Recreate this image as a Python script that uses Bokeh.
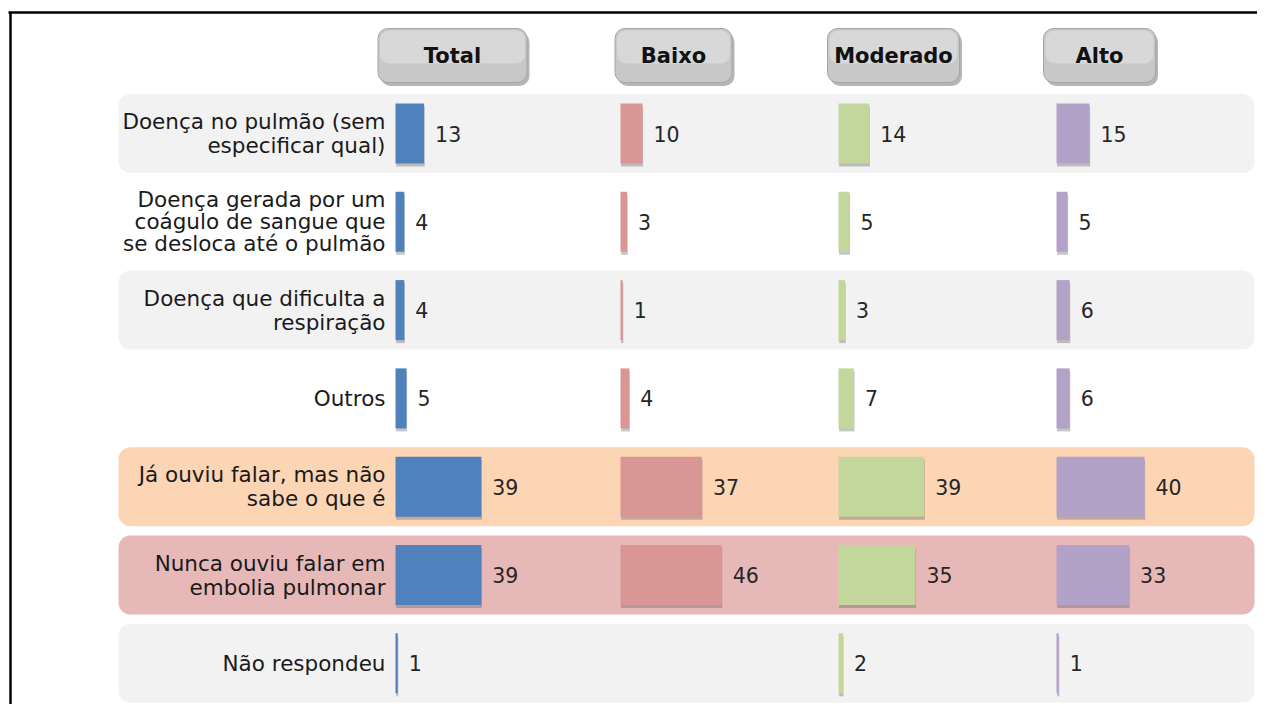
from bokeh.plotting import figure
from bokeh.models import Range1d, ColumnDataSource
from bokeh.core.properties import value
from bokeh.embed import file_html
from bokeh.resources import INLINE

# ---------------- data ----------------
categories = [
    "Doença no pulmão (sem\nespecificar qual)",
    "Doença gerada por um\ncoágulo de sangue que\nse desloca até o pulmão",
    "Doença que dificulta a\nrespiração",
    "Outros",
    "Já ouviu falar, mas não\nsabe o que é",
    "Nunca ouviu falar em\nembolia pulmonar",
    "Não respondeu",
]
groups = ["Total", "Baixo", "Moderado", "Alto"]
total = [13, 4, 4, 5, 39, 39, 1]
baixo = [10, 3, 1, 4, 37, 46, None]
moderado = [14, 5, 3, 7, 39, 35, 2]
alto = [15, 5, 6, 6, 40, 33, 1]
series = [total, baixo, moderado, alto]

group_colors = ["#4f81bd", "#d99694", "#c3d69b", "#b3a2c7"]
band_colors = ["#f2f2f2", None, "#f2f2f2", None, "#fcd5b5", "#e6b9b8", "#f2f2f2"]

# ---------------- layout ----------------
W, H = 1257, 704
PX = 2.2            # pixels per percentage point
ROW0, PITCH = 133.0, 88.3


def ux(X):
    return X / PX


def uy(Y):
    return (Y - ROW0) / PITCH


col_start = [ux(395), ux(620), ux(838), ux(1056)]
btn_center = [ux(452), ux(673), ux(893), ux(1099)]
btn_width = [149 / PX, 117 / PX, 132 / PX, 112 / PX]
btn_y, btn_h = uy(55), 54 / PITCH
bar_h = 60 / PITCH
band_h = 79 / PITCH
band_left, band_right = ux(118), ux(1254)
label_right = ux(385)
gap = 11 / PX
FONT = value("DejaVu Sans")

p = figure(width=W, height=H, x_range=Range1d(0, W / PX),
           y_range=Range1d(uy(H), uy(0)),
           output_backend="svg", toolbar_location=None, min_border=0,
           x_axis_location=None, y_axis_location=None)
p.grid.visible = False
p.outline_line_color = None
p.background_fill_color = "white"
p.border_fill_color = "white"

# outer frame (left and top edges visible)
p.segment(x0=[ux(10), ux(8)], y0=[uy(12), uy(12)], x1=[ux(10), ux(1273)],
          y1=[uy(720), uy(12)], line_color="black", line_width=2.5)

# row bands
rows = list(range(len(categories)))
bi = [i for i in rows if band_colors[i]]
p.quad(left=[band_left] * len(bi), right=[band_right] * len(bi),
       top=[i - band_h / 2 for i in bi], bottom=[i + band_h / 2 for i in bi],
       fill_color=[band_colors[i] for i in bi], line_color=None, border_radius=12)

# header buttons
sh_dx, sh_dy = 2.5 / PX, 3.5 / PITCH
p.quad(left=[c - w / 2 + sh_dx for c, w in zip(btn_center, btn_width)],
       right=[c + w / 2 + sh_dx for c, w in zip(btn_center, btn_width)],
       top=[btn_y - btn_h / 2 + sh_dy] * 4, bottom=[btn_y + btn_h / 2 + sh_dy] * 4,
       fill_color="#6e6e6e", fill_alpha=0.5, line_color=None, border_radius=10)
p.quad(left=[c - w / 2 for c, w in zip(btn_center, btn_width)],
       right=[c + w / 2 for c, w in zip(btn_center, btn_width)],
       top=[btn_y - btn_h / 2] * 4, bottom=[btn_y + btn_h / 2] * 4,
       fill_color="#c8c8c8", line_color="#a5a5a5", line_width=1, border_radius=10)
p.quad(left=[c - w / 2 + 2 / PX for c, w in zip(btn_center, btn_width)],
       right=[c + w / 2 - 2 / PX for c, w in zip(btn_center, btn_width)],
       top=[btn_y - btn_h / 2 + 2 / PITCH] * 4, bottom=[btn_y + 8 / PITCH] * 4,
       fill_color="#dcdcdc", fill_alpha=0.8, line_color=None, border_radius=9)
p.text(x=btn_center, y=[btn_y] * 4, text=groups, text_align="center",
       text_baseline="middle", text_font=FONT, text_font_style="bold",
       text_font_size="21px", text_color="#111111")

# bars
for g, vals in enumerate(series):
    idx = [i for i in rows if vals[i] is not None]
    left = [col_start[g]] * len(idx)
    right = [col_start[g] + vals[i] for i in idx]
    src = ColumnDataSource(dict(
        left=left, right=right,
        top=[i - bar_h / 2 for i in idx], bottom=[i + bar_h / 2 for i in idx],
        sleft=[l + 0.6 / PX for l in left], sright=[r + 0.6 / PX for r in right],
        stop=[i - bar_h / 2 + 3 / PITCH for i in idx],
        sbottom=[i + bar_h / 2 + 3 / PITCH for i in idx],
        lx=[r + gap for r in right], ly=[float(i) for i in idx],
        lab=[str(vals[i]) for i in idx],
    ))
    p.quad(left="sleft", right="sright", top="stop", bottom="sbottom", source=src,
           fill_color="#5a5a5a", fill_alpha=0.35, line_color=None)
    p.quad(left="left", right="right", top="top", bottom="bottom", source=src,
           fill_color=group_colors[g], line_color=None)
    p.text(x="lx", y="ly", text="lab", source=src, text_align="left",
           text_baseline="middle", text_font=FONT, text_font_size="20.5px",
           text_color="#262626")

# row labels
lx, ly, lt = [], [], []
for i, cat in enumerate(categories):
    lines = cat.split("\n")
    n = len(lines)
    pitch = (22 if n > 2 else 24) / PITCH
    for j, line in enumerate(lines):
        lx.append(label_right)
        ly.append(i + (j - (n - 1) / 2) * pitch)
        lt.append(line)
p.text(x=lx, y=ly, text=lt, text_align="right", text_baseline="middle",
       text_font=FONT, text_font_size="21.5px", text_color="#1a1a1a")

open("out.html", "w").write(file_html(p, INLINE))
